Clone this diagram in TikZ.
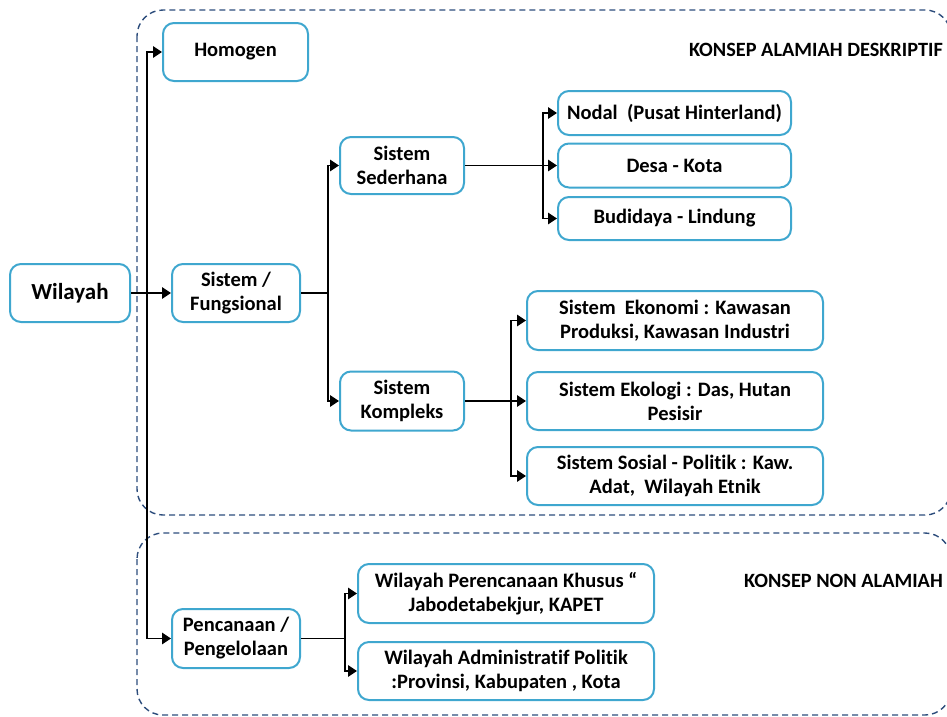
\documentclass[tikz,border=0pt]{standalone}
\usepackage{fontspec}
\setmainfont{Carlito}[Ligatures={NoCommon}]
\usetikzlibrary{arrows.meta}
\definecolor{boxblue}{HTML}{3FA7CF}
\definecolor{dashblue}{HTML}{2D4D7C}
\tikzset{
  box/.style={draw=boxblue, line width=2pt, rounded corners=11pt, fill=white,
    align=center, inner sep=2pt, font=\bfseries\fontsize{20.5}{24}\selectfont},
  arr/.style={line width=1.7pt, -{Triangle[length=9pt,width=11.5pt]}},
  conn/.style={line width=1.7pt},
  region/.style={draw=dashblue, line width=1.4pt, dash pattern=on 6pt off 4pt, rounded corners=26pt},
  tag/.style={anchor=east, inner sep=0pt, font=\bfseries\fontsize{20.3}{24}\selectfont}
}
\begin{document}
\begin{tikzpicture}[x=1pt,y=-1pt]
\useasboundingbox (0,0) rectangle (947,716);
\begin{scope}
\clip (0,0) rectangle (947,716);
\draw[region] (137,10) rectangle (951,515);
\draw[region] (137,533) rectangle (951,715);
\end{scope}

\node[tag] (t1) at (943,50) {KONSEP ALAMIAH DESKRIPTIF};
\node[tag] (t2) at (943,581) {KONSEP NON ALAMIAH};

\node[box, minimum width=120pt, minimum height=58pt, font=\bfseries\fontsize{23}{27}\selectfont] (w) at (70,293) {Wilayah};
\node[box, minimum width=145pt, minimum height=58pt] (hom) at (235.5,52) {Homogen};
\node[box, minimum width=128pt, minimum height=58pt] (sf) at (236,293) {Sistem /\\Fungsional};
\node[box, minimum width=124pt, minimum height=57pt] (ss) at (402,165.5) {Sistem\\Sederhana};
\node[box, minimum width=124pt, minimum height=59pt] (sk) at (402,401) {Sistem\\Kompleks};
\node[box, minimum width=233pt, minimum height=44pt] (nod) at (674.5,113) {Nodal~~(Pusat Hinterland)};
\node[box, minimum width=233pt, minimum height=44pt] (dk) at (674.5,165.5) {Desa - Kota};
\node[box, minimum width=233pt, minimum height=43pt] (bl) at (674.5,218.5) {Budidaya - Lindung};
\node[box, minimum width=296pt, minimum height=59pt] (eko) at (675,320.5) {Sistem~~Ekonomi : Kawasan\\Produksi, Kawasan Industri};
\node[box, minimum width=296pt, minimum height=58pt] (ekl) at (675,401) {Sistem Ekologi : Das, Hutan\\Pesisir};
\node[box, minimum width=296pt, minimum height=58pt] (sos) at (675,476) {Sistem Sosial - Politik : Kaw.\\Adat,~~Wilayah Etnik};
\node[box, minimum width=128pt, minimum height=59pt] (pen) at (236,638.5) {Pencanaan /\\Pengelolaan};
\node[box, minimum width=296pt, minimum height=59pt] (wpk) at (506,593.5) {Wilayah Perencanaan Khusus “\\Jabodetabekjur, KAPET};
\node[box, minimum width=296pt, minimum height=58pt] (wad) at (506,671) {Wilayah Administratif Politik\\:Provinsi, Kabupaten , Kota};

\coordinate (tr) at (147,293);
\coordinate (b1) at (328,293);
\coordinate (b2) at (543,165.5);
\coordinate (b3) at (511,401);
\coordinate (b4) at (345,638.5);

\draw[arr] (w.east) -- (sf.west);
\draw[arr] (tr) |- (hom.west);
\draw[arr] (tr) |- (pen.west);

\draw[conn] (sf.east) -- (b1);
\draw[arr] (b1) |- (ss.west);
\draw[arr] (b1) |- (sk.west);

\draw[arr] (ss.east) -- (dk.west);
\draw[arr] (b2) |- (nod.west);
\draw[arr] (b2) |- (bl.west);

\draw[arr] (sk.east) -- (ekl.west);
\draw[arr] (b3) |- (eko.west);
\draw[arr] (b3) |- (sos.west);

\draw[conn] (pen.east) -- (b4);
\draw[arr] (b4) |- (wpk.west);
\draw[arr] (b4) |- (wad.west);
\end{tikzpicture}
\end{document}
